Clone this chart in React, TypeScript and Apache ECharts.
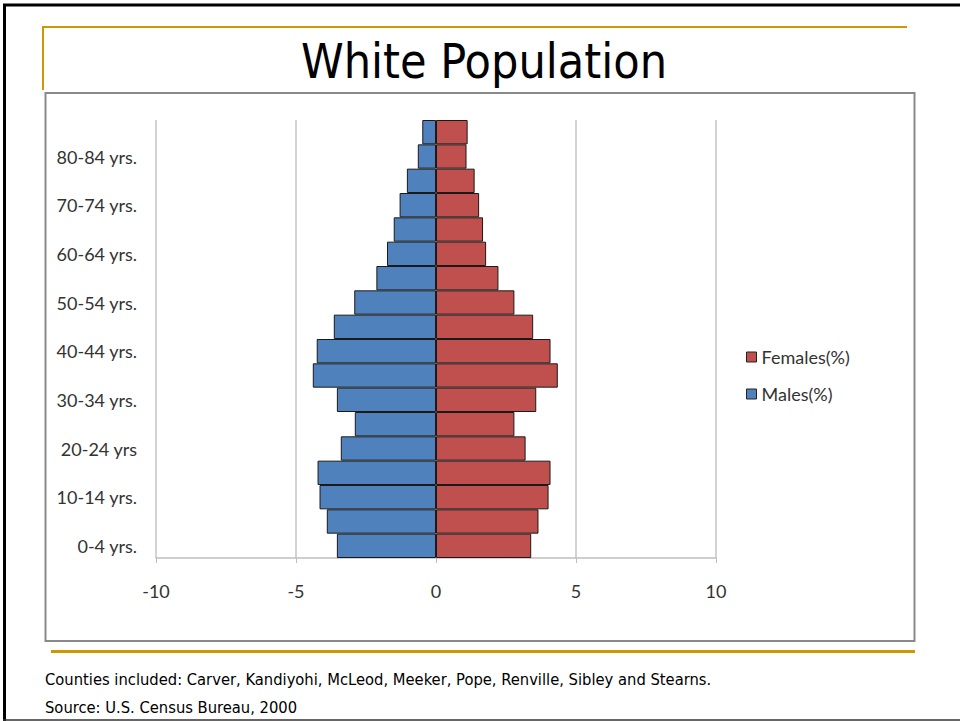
import React, { useEffect, useRef } from "react";
import * as echarts from "echarts";

// Age groups, youngest at the bottom of the pyramid
const ageGroups = [
  "0-4 yrs.", "5-9 yrs.", "10-14 yrs.", "15-19 yrs.", "20-24 yrs",
  "25-29 yrs.", "30-34 yrs.", "35-39 yrs.", "40-44 yrs.", "45-49 yrs.",
  "50-54 yrs.", "55-59 yrs.", "60-64 yrs.", "65-69 yrs.", "70-74 yrs.",
  "75-79 yrs.", "80-84 yrs.", "85+ yrs.",
];

// Share of the population (%), males plotted to the left of zero
const malesPct = [
  -3.54, -3.9, -4.16, -4.23, -3.4, -2.9, -3.54, -4.4, -4.26, -3.65,
  -2.92, -2.13, -1.75, -1.51, -1.3, -1.04, -0.65, -0.49,
];
const femalesPct = [
  3.4, 3.66, 4.02, 4.09, 3.2, 2.8, 3.58, 4.35, 4.09, 3.47,
  2.8, 2.23, 1.79, 1.68, 1.54, 1.38, 1.09, 1.13,
];

const legendOrder = ["Females(%)", "Males(%)"];
const xTicks = { min: -10, max: 10, step: 5 };

const titleText = "White Population";
const noteCounties =
  "Counties included: Carver, Kandiyohi, McLeod, Meeker, Pope, Renville, Sibley and Stearns.";
const noteSource = "Source: U.S. Census Bureau, 2000";

const GOLD = "#CC9900";
const LABEL_FONT = "Lato, 'Open Sans', sans-serif";
const SLIDE_FONT = "'DejaVu Sans Condensed', 'DejaVu Sans', sans-serif";

export default function App() {
  const ref = useRef<HTMLDivElement>(null);

  useEffect(() => {
    if (!ref.current) return;
    const chart = echarts.init(ref.current, undefined, { renderer: "svg" });

    chart.setOption({
      animation: false,
      backgroundColor: "#ffffff",
      grid: { left: 156, right: 244, top: 120, bottom: 163, containLabel: false },
      legend: {
        data: legendOrder,
        orient: "vertical",
        left: 741,
        top: 343,
        itemWidth: 10,
        itemHeight: 10,
        itemGap: 19,
        icon: "rect",
        textStyle: { fontFamily: LABEL_FONT, fontSize: 18, color: "#333" },
        itemStyle: { borderColor: "#222", borderWidth: 1 },
      },
      xAxis: {
        type: "value",
        min: xTicks.min,
        max: xTicks.max,
        interval: xTicks.step,
        axisLine: { show: true, onZero: false, lineStyle: { color: "#bfbfbf", width: 1.5 } },
        axisTick: { show: true, length: 5, lineStyle: { color: "#bfbfbf" } },
        splitLine: { show: true, lineStyle: { color: "#c4c4c4", width: 1.5 } },
        axisLabel: {
          margin: 24,
          fontFamily: LABEL_FONT,
          fontSize: 18,
          color: "#333",
        },
      },
      yAxis: {
        type: "category",
        data: ageGroups,
        axisLine: { show: false, onZero: false },
        axisTick: { show: false },
        axisLabel: {
          interval: 1,
          margin: 19,
          fontFamily: LABEL_FONT,
          fontSize: 18,
          color: "#333",
        },
      },
      series: [
        {
          name: "Males(%)",
          type: "bar",
          stack: "pyramid",
          data: malesPct,
          barCategoryGap: 0,
          itemStyle: { color: "#4F81BD", borderColor: "#1a1a1a", borderWidth: 1 },
        },
        {
          name: "Females(%)",
          type: "bar",
          stack: "pyramid",
          data: femalesPct,
          barCategoryGap: 0,
          itemStyle: { color: "#C0504D", borderColor: "#1a1a1a", borderWidth: 1 },
        },
      ],
      graphic: [
        // slide frame
        { type: "line", shape: { x1: 3, y1: 5, x2: 960, y2: 5 }, style: { stroke: "#000", lineWidth: 3 } },
        { type: "line", shape: { x1: 4.5, y1: 4, x2: 4.5, y2: 721 }, style: { stroke: "#000", lineWidth: 3 } },
        { type: "line", shape: { x1: 3, y1: 720, x2: 960, y2: 720 }, style: { stroke: "#333", lineWidth: 1.5 } },
        // gold title rules
        { type: "line", shape: { x1: 42, y1: 27, x2: 907, y2: 27 }, style: { stroke: GOLD, lineWidth: 2 } },
        { type: "line", shape: { x1: 43, y1: 26, x2: 43, y2: 90 }, style: { stroke: GOLD, lineWidth: 2 } },
        { type: "line", shape: { x1: 51, y1: 651.5, x2: 915, y2: 651.5 }, style: { stroke: GOLD, lineWidth: 3 } },
        // chart area border
        {
          type: "rect",
          shape: { x: 45.5, y: 93, width: 869, height: 548 },
          style: { fill: "none", stroke: "#898989", lineWidth: 2 },
          z: -1,
        },
        {
          type: "text",
          x: 484,
          y: 61,
          style: {
            text: titleText,
            font: `48px ${SLIDE_FONT}`,
            fill: "#000",
            textAlign: "center",
            textVerticalAlign: "middle",
          },
        },
        {
          type: "text",
          x: 45,
          y: 679,
          style: {
            text: noteCounties,
            font: `16.4px ${SLIDE_FONT}`,
            fill: "#000",
            textAlign: "left",
            textVerticalAlign: "middle",
          },
        },
        {
          type: "text",
          x: 45,
          y: 707,
          style: {
            text: noteSource,
            font: `16.4px ${SLIDE_FONT}`,
            fill: "#000",
            textAlign: "left",
            textVerticalAlign: "middle",
          },
        },
      ],
    });

    return () => chart.dispose();
  }, []);

  return (
    <div
      ref={ref}
      style={{ position: "absolute", left: 0, top: 0, width: 960, height: 721 }}
    />
  );
}
